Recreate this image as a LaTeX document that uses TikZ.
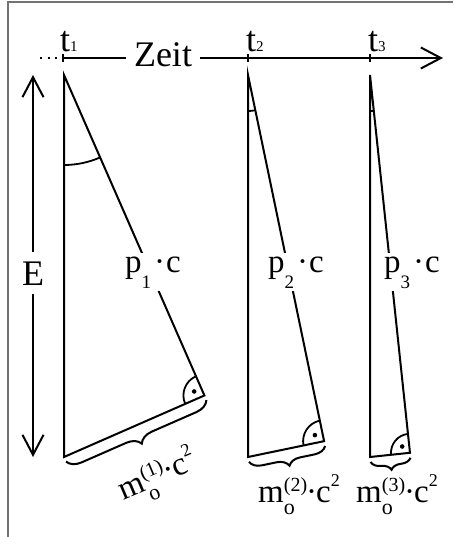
\documentclass[tikz,border=0pt]{standalone}
\usepackage{fontspec}
\setmainfont{Liberation Serif}
\usetikzlibrary{arrows.meta, calc, decorations.pathreplacing}

\newcommand{\klein}[2]{{\fontsize{#1}{#1}\selectfont #2}}
\newcommand{\zeitpkt}[1]{t\klein{15}{#1}}
\newcommand{\impuls}[1]{p\raisebox{-16pt}{\klein{19}{#1}}\kern3pt·\kern1pt c}
\newcommand{\ruhe}[1]{m\rlap{\raisebox{-12pt}{\klein{22}{o}}}\raisebox{11pt}{\klein{20}{(#1)}}\kern-1pt·\kern-1pt c\raisebox{16pt}{\klein{18}{2}}}

\tikzset{
  side/.style={line width=2pt},
  winkel/.style={line width=1.8pt},
  frame/.style={draw=black!55, line width=1.5pt},
  big/.style={font=\fontsize{36}{40}\selectfont, inner sep=0pt},
  mid/.style={font=\fontsize{33}{38}\selectfont, inner sep=3pt},
  massbrace/.style={decorate, line width=2pt, decoration={brace, mirror, amplitude=#1, raise=5pt}}
}

\begin{document}
\begin{tikzpicture}[x=1pt, y=-1pt, >={Straight Barb[length=20pt, width=21pt, line width=2pt]}]
  \useasboundingbox (0,0) rectangle (453,537);
  % Rahmen
  \draw[frame] (8,537) |- (453,2);

  % Zeitachse
  \coordinate (T0) at (40,58);
  \coordinate (T1) at (63,58);
  \coordinate (T2) at (248,58);
  \coordinate (T3) at (370,58);
  \coordinate (Tend) at (443,58);
  \draw[line width=2pt, dash pattern=on 2pt off 5.5pt] (T0) -- (T1);
  \draw[side, ->] (T1) -- (Tend);
  \draw[side] ($(T1)+(0,-4)$) -- ($(T1)+(0,4)$);
  \draw[side] ($(T2)+(0,-4)$) -- ($(T2)+(0,4)$);
  \draw[side] ($(T3)+(0,-4)$) -- ($(T3)+(0,4)$);
  \node[big, fill=white, anchor=base, inner xsep=8pt, inner ysep=4pt] (zeit) at (163,67) {Zeit};
  \node[big, anchor=base west] (t1) at ($(T1)+(-3,-6)$) {\zeitpkt{1}};
  \node[big, anchor=base west] (t2) at ($(T2)+(-2,-6)$) {\zeitpkt{2}};
  \node[big, anchor=base west] (t3) at ($(T3)+(-2,-6)$) {\zeitpkt{3}};

  % Energie
  \coordinate (Eo) at (33,75);
  \coordinate (Eu) at (33,457);
  \draw[side, <->] (Eo) -- (Eu);
  \node[big, fill=white, anchor=base, inner sep=9pt] (E) at (33,285) {E};

  % Dreieck zur Zeit t1
  \coordinate (A1) at (64,75);
  \coordinate (B1) at (64,457);
  \coordinate (C1) at ($(A1)+(66.34:349.9)$);
  \draw[side] (A1) -- (B1) -- (C1) -- cycle;
  \draw[winkel] ($(A1)+(0,90)$) arc[start angle=90, end angle=66.34, radius=90];
  \draw[winkel] ($(C1)+(156.34:21)$) arc[start angle=156.34, end angle=246.34, radius=21];
  \fill ($(C1)+(201.34:11)$) circle[radius=2.3];
  \draw[massbrace=14pt] (B1) -- (C1);
  \node[mid, fill=white, anchor=base] (p1) at (153,272) {\impuls{1}};
  \node[mid, rotate=23] (m1) at (158,477) {\ruhe{1}};

  % Dreieck zur Zeit t2
  \coordinate (A2) at (248,75);
  \coordinate (B2) at (248,457);
  \coordinate (C2) at ($(A2)+(78.26:374.0)$);
  \draw[side] (A2) -- (B2) -- (C2) -- cycle;
  \draw[winkel] ($(A2)+(0,36)$) arc[start angle=90, end angle=78.26, radius=36];
  \draw[winkel] ($(C2)+(168.26:21)$) arc[start angle=168.26, end angle=258.26, radius=21];
  \fill ($(C2)+(213.26:11)$) circle[radius=2.3];
  \draw[massbrace=12pt] (B2) -- (C2);
  \node[mid, fill=white, anchor=base] (p2) at (296,272) {\impuls{2}};
  \node[mid, anchor=base] (m2) at (299,502) {\ruhe{2}};

  % Dreieck zur Zeit t3
  \coordinate (A3) at (370,75);
  \coordinate (B3) at (370,457);
  \coordinate (C3) at ($(A3)+(83.96:379.9)$);
  \draw[side] (A3) -- (B3) -- (C3) -- cycle;
  \draw[winkel] ($(A3)+(0,36)$) arc[start angle=90, end angle=83.96, radius=36];
  \draw[winkel] ($(C3)+(173.96:19)$) arc[start angle=173.96, end angle=263.96, radius=19];
  \fill ($(C3)+(218.96:10)$) circle[radius=2.3];
  \draw[massbrace=10pt] (B3) -- (C3);
  \node[mid, fill=white, anchor=base] (p3) at (412,272) {\impuls{3}};
  \node[mid, anchor=base] (m3) at (397,502) {\ruhe{3}};
\end{tikzpicture}
\end{document}
